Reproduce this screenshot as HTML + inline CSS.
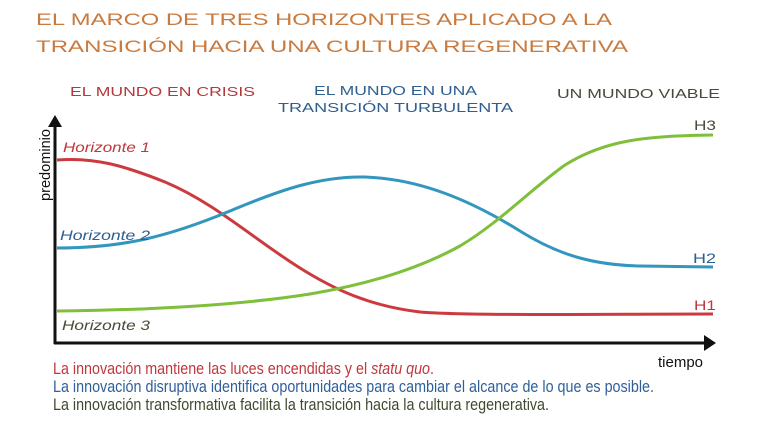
<!DOCTYPE html>
<html><head><meta charset="utf-8"><style>
html,body{margin:0;padding:0;background:#fff;}
svg{display:block;}
.h{font-family:"Liberation Sans",sans-serif;}
</style></head><body>
<svg width="782" height="424" viewBox="0 0 782 424" xmlns="http://www.w3.org/2000/svg" class="h">
<g font-family="Liberation Sans, sans-serif" fill="#c97a3e" font-size="17">
<text x="36" y="25" textLength="576" lengthAdjust="spacingAndGlyphs">EL MARCO DE TRES HORIZONTES APLICADO A LA</text>
<text x="36" y="52" textLength="592" lengthAdjust="spacingAndGlyphs">TRANSICIÓN HACIA UNA CULTURA REGENERATIVA</text>
</g>
<g font-family="Liberation Sans, sans-serif" font-size="13">
<text x="70" y="96" fill="#b5393c" textLength="185" lengthAdjust="spacingAndGlyphs">EL MUNDO EN CRISIS</text>
<text x="314" y="95" fill="#2f5f8f" textLength="163" lengthAdjust="spacingAndGlyphs">EL MUNDO EN UNA</text>
<text x="278" y="112" fill="#2f5f8f" textLength="235" lengthAdjust="spacingAndGlyphs">TRANSICIÓN TURBULENTA</text>
<text x="557" y="98" fill="#4a4a3a" textLength="163" lengthAdjust="spacingAndGlyphs">UN MUNDO VIABLE</text>
</g>
<!-- axes -->
<line x1="55" y1="124" x2="55" y2="344" stroke="#111" stroke-width="3"/>
<polygon points="55,115 48,127 62,127" fill="#111"/>
<line x1="54" y1="343" x2="706" y2="343" stroke="#111" stroke-width="3"/>
<polygon points="716,343 704,335 704,351" fill="#111"/>
<text transform="translate(50,201) rotate(-90)" font-size="15" fill="#111" textLength="72" lengthAdjust="spacingAndGlyphs">predominio</text>
<text x="658" y="367" font-size="15" fill="#111" textLength="45" lengthAdjust="spacingAndGlyphs">tiempo</text>
<!-- curves -->
<path d="M57,160 C95,157 125,166 165,182 C215,203 255,240 300,268 C335,290 370,306 420,312 C470,316 600,314 713,314" fill="none" stroke="#cc3a3f" stroke-width="3"/>
<path d="M57,248 C120,248 165,238 230,211 C280,190 320,176 365,177 C420,179 470,200 520,231 C560,256 595,265 640,266 L713,267" fill="none" stroke="#3296bf" stroke-width="3"/>
<path d="M57,311 C150,310 240,305 310,294 C370,284 420,268 460,246 C500,222 530,190 565,165 C605,140 645,136 713,135" fill="none" stroke="#7fbf3a" stroke-width="3"/>
<g font-size="14" font-style="italic">
<text x="63" y="152" fill="#c0373c" textLength="87" lengthAdjust="spacingAndGlyphs">Horizonte 1</text>
<text x="60" y="240" fill="#2f5f8f" textLength="90" lengthAdjust="spacingAndGlyphs">Horizonte 2</text>
<text x="62" y="330" fill="#4a4a3a" textLength="88" lengthAdjust="spacingAndGlyphs">Horizonte 3</text>
<text x="694" y="130" fill="#4a4a3a" font-style="normal" textLength="22" lengthAdjust="spacingAndGlyphs">H3</text>
<text x="693" y="263" fill="#2f5f8f" font-style="normal" textLength="23" lengthAdjust="spacingAndGlyphs">H2</text>
<text x="694" y="310" fill="#c0373c" font-style="normal" textLength="22" lengthAdjust="spacingAndGlyphs">H1</text>
</g>
<g font-size="17">
<text x="53" y="374" fill="#c0373c" textLength="381" lengthAdjust="spacingAndGlyphs">La innovación mantiene las luces encendidas y el <tspan font-style="italic">statu quo</tspan>.</text>
<text x="53" y="392" fill="#2f5f9a" textLength="601" lengthAdjust="spacingAndGlyphs">La innovación disruptiva identifica oportunidades para cambiar el alcance de lo que es posible.</text>
<text x="53" y="410" fill="#3e4a2e" textLength="496" lengthAdjust="spacingAndGlyphs">La innovación transformativa facilita la transición hacia la cultura regenerativa.</text>
</g>
</svg>
</body></html>
